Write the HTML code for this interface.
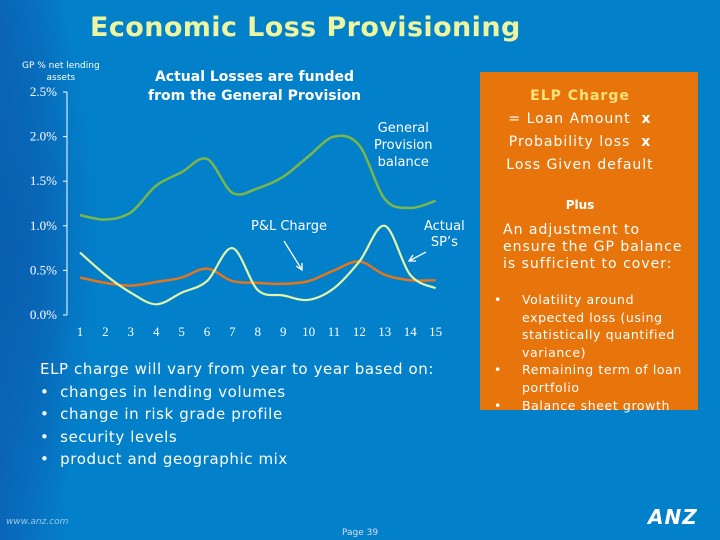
<!DOCTYPE html>
<html><head><meta charset="utf-8"><style>
body{margin:0;width:720px;height:540px;overflow:hidden;background:#0380CA;font-family:"DejaVu Sans","Liberation Sans",sans-serif;position:relative}
.bg{position:absolute;left:0;top:0;width:720px;height:540px;background:radial-gradient(ellipse 90px 300px at 10px 250px,#0A5FB0 0%,rgba(3,128,202,0) 100%),linear-gradient(90deg,#0A66B8 0,#0380CA 70px)}
.t{position:absolute;color:#fff;white-space:nowrap}
#box{position:absolute;left:480px;top:72px;width:218px;height:338px;background:#E8750C}
</style></head><body>
<div class="bg"></div>
<div class="t" style="left:90px;top:12px;font-size:27px;font-weight:bold;color:#EEF5A0;letter-spacing:0.4px">Economic Loss Provisioning</div>
<div class="t" style="left:22px;top:60px;font-size:9px;text-align:center;line-height:12px">GP % net lending<br>assets</div>
<div class="t" style="left:148px;top:68px;font-size:14px;font-weight:bold;text-align:center;line-height:19px">Actual Losses are funded<br>from the General Provision</div>
<svg id="chart" width="720" height="540" style="position:absolute;left:0;top:0"></svg>
<div class="t" style="left:374px;top:120px;font-size:13px;text-align:center;line-height:17px">General<br>Provision<br>balance</div>
<div class="t" style="left:251px;top:219px;font-size:13px">P&amp;L Charge</div>
<div class="t" style="left:424px;top:219px;font-size:13px;text-align:center;line-height:16px">Actual<br>SP’s</div>
<div class="t" style="left:40px;top:358px;font-size:15px;letter-spacing:0.6px;line-height:22.5px">ELP charge will vary from year to year based on:<br>•&nbsp; changes in lending volumes<br>•&nbsp; change in risk grade profile<br>•&nbsp; security levels<br>•&nbsp; product and geographic mix</div>
<div id="box">
<div class="t" style="left:0;width:200px;top:13px;text-align:center;font-size:14px;line-height:23px;letter-spacing:1px"><b style="color:#FFE27A">ELP Charge</b><br>= Loan Amount&nbsp; <b>x</b><br>Probability loss&nbsp; <b>x</b><br>Loss Given default</div>
<div class="t" style="left:0;width:200px;top:126px;text-align:center;font-size:12px;font-weight:bold">Plus</div>
<div class="t" style="left:23px;top:150px;font-size:14px;line-height:17px;letter-spacing:1px">An adjustment to<br>ensure the GP balance<br>is sufficient to cover:</div>
<div class="t" style="left:14px;top:219px;font-size:12.5px;line-height:17.6px">•<br><br><br><br>•<br><br>•</div>
<div class="t" style="left:42px;top:219px;font-size:12.5px;line-height:17.6px;letter-spacing:0.6px">Volatility around<br>expected loss (using<br>statistically quantified<br>variance)<br>Remaining term of loan<br>portfolio<br>Balance sheet growth</div>
</div>
<div class="t" style="left:6px;top:517px;font-size:9px;font-style:italic;color:#9CC8E8">www.anz.com</div>
<div class="t" style="left:342px;top:528px;font-size:9px;color:#dde">Page 39</div>
<div class="t" style="left:648px;top:505px;font-size:20px;font-weight:bold;font-style:italic;letter-spacing:1px">ANZ</div>
<script>
const categories=[1,2,3,4,5,6,7,8,9,10,11,12,13,14,15];
const gpBalance=[1.12,1.07,1.15,1.45,1.6,1.75,1.37,1.42,1.55,1.78,2.0,1.9,1.3,1.2,1.28];
const actualSP=[0.7,0.45,0.25,0.12,0.25,0.38,0.75,0.28,0.22,0.17,0.3,0.6,1.0,0.45,0.3];
const plCharge=[0.42,0.36,0.33,0.37,0.42,0.52,0.38,0.36,0.35,0.38,0.5,0.6,0.45,0.39,0.39];
const yTicks=[0,0.5,1.0,1.5,2.0,2.5];
const yTickLabels=["0.0%","0.5%","1.0%","1.5%","2.0%","2.5%"];
const svg=document.getElementById('chart');const NS='http://www.w3.org/2000/svg';
const X=i=>80+(i)*25.4, Y=v=>315-v*89.2;
function mk(t,a){const e=document.createElementNS(NS,t);for(const k in a)e.setAttribute(k,a[k]);svg.appendChild(e);return e;}
const ax=mk('line',{x1:67,y1:Y(2.5),x2:67,y2:Y(0),stroke:'#fff','stroke-width':1});


yTicks.forEach((v,i)=>{
 const tk=mk('line',{x1:63,x2:67,y1:Y(v),y2:Y(v),stroke:'#fff'});
 
 
 const t=mk('text',{x:57,y:Y(v)+4,'text-anchor':'end','font-size':13,fill:'#fff','font-family':'Liberation Serif, serif'});t.textContent=yTickLabels[i];
 
 
});
categories.forEach((c,i)=>{
 const t=mk('text',{x:X(i),y:336,'text-anchor':'middle','font-size':13,fill:'#fff','font-family':'Liberation Serif, serif'});t.textContent=c;
 
 
});
function path(vals){const p=vals.map((v,i)=>[X(i),Y(v)]);let d='M'+p[0];for(let i=0;i<p.length-1;i++){const p0=p[i-1]||p[i],p1=p[i],p2=p[i+1],p3=p[i+2]||p2;d+=' C'+(p1[0]+(p2[0]-p0[0])/6)+','+(p1[1]+(p2[1]-p0[1])/6)+' '+(p2[0]-(p3[0]-p1[0])/6)+','+(p2[1]-(p3[1]-p1[1])/6)+' '+p2;}return d;}
const g=mk('path',{d:path(gpBalance),fill:'none',stroke:'#7AB648','stroke-width':2.5});


const o=mk('path',{d:path(plCharge),fill:'none',stroke:'#E0761E','stroke-width':2.5});


const s=mk('path',{d:path(actualSP),fill:'none',stroke:'#E2F5A8','stroke-width':2.2});


const a1=mk('path',{d:'M284,241 L302,270 M296,266 L302,270 L302,263',stroke:'#fff','stroke-width':1.3,fill:'none'});


const a2=mk('path',{d:'M426,252 L409,261 M413,255 L409,261 L416,261',stroke:'#fff','stroke-width':1.3,fill:'none'});


</script>
</body></html>
